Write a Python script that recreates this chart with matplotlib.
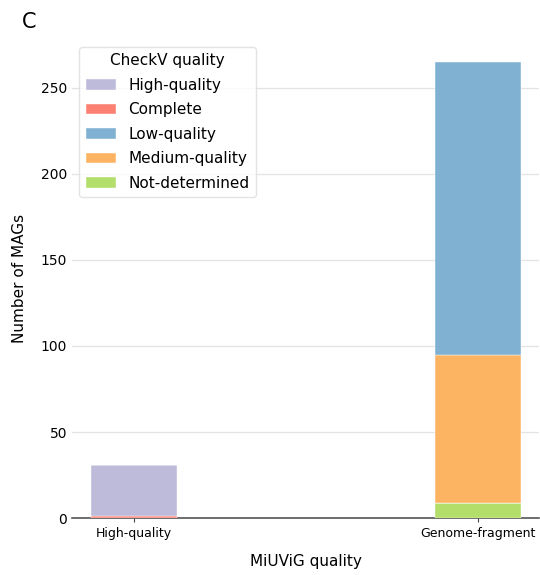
import matplotlib.pyplot as plt
import numpy as np

# MiUViG quality categories on the x axis
categories = ["High-quality", "Genome-fragment"]

# CheckV quality counts per category (stacked bottom to top)
not_determined = [0, 9]
complete = [1, 0]
high_quality = [30, 0]
medium_quality = [0, 86]
low_quality = [0, 170]

series = [
    ("High-quality", high_quality, "#bebada"),
    ("Complete", complete, "#fb8072"),
    ("Low-quality", low_quality, "#80b1d3"),
    ("Medium-quality", medium_quality, "#fdb462"),
    ("Not-determined", not_determined, "#b3de69"),
]
# stacking order from the bottom
stack_order = ["Not-determined", "Complete", "High-quality", "Medium-quality", "Low-quality"]

fig = plt.figure(figsize=(5.4, 5.75), dpi=100)
ax = fig.add_axes([0.133, 0.099, 0.866, 0.832])

x = np.arange(len(categories))
lookup = {name: (vals, col) for name, vals, col in series}
bottom = np.zeros(len(categories))
handles = {}
for name in stack_order:
    vals, col = lookup[name]
    bars = ax.bar(x, vals, width=0.25, bottom=bottom, color=col,
                  edgecolor="white", linewidth=0.3, label=name, zorder=3)
    handles[name] = bars
    bottom += np.array(vals)

ax.set_xticks(x)
ax.set_xticklabels(categories, fontsize=9)
ax.set_xlim(-0.18, 1.18)
ax.set_ylim(0, 278)
ax.set_yticks([0, 50, 100, 150, 200, 250])
ax.tick_params(axis="y", length=0, labelsize=10)
ax.tick_params(axis="x", length=3, color="#444444")
ax.grid(axis="y", color="#e3e3e3", linewidth=0.9, zorder=0)
for s in ["left", "top", "right"]:
    ax.spines[s].set_visible(False)
ax.spines["bottom"].set_color("#555555")
ax.spines["bottom"].set_linewidth(1.2)

ax.set_xlabel("MiUViG quality", fontsize=11, labelpad=10)
ax.set_ylabel("Number of MAGs", fontsize=11, labelpad=10)

leg = ax.legend([handles[n] for n, _, _ in series], [n for n, _, _ in series],
                title="CheckV quality", loc="upper left", bbox_to_anchor=(0.0, 1.0),
                fontsize=11, title_fontsize=11, frameon=True, labelspacing=0.62)
leg.get_frame().set_edgecolor("#dddddd")

fig.text(0.04, 0.962, "C", fontsize=15, va="center", ha="left")

fig.savefig("out.png", dpi=100)
